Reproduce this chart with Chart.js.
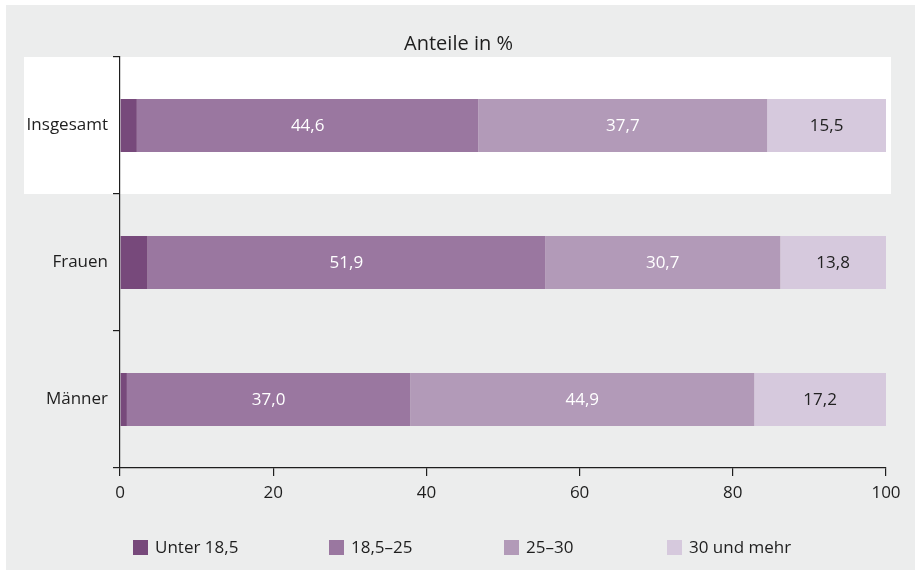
<!DOCTYPE html>
<html>
<head>
<meta charset="utf-8">
<script src="https://cdn.jsdelivr.net/npm/chart.js@4/dist/chart.umd.min.js"></script>
<style>
  html, body { margin: 0; padding: 0; background: #ffffff; }
  #wrap { position: relative; width: 915px; height: 570px; }
  canvas { display: block; }
</style>
</head>
<body>
<div id="wrap"><canvas id="c" width="915" height="570"></canvas></div>
<script>
// ---- data ----
const categories = ['Insgesamt', 'Frauen', 'Männer'];
const seriesNames = ['Unter 18,5', '18,5–25', '25–30', '30 und mehr'];
const unter185 = [2.2, 3.6, 0.9];
const normal = [44.6, 51.9, 37.0];
const ueber25 = [37.7, 30.7, 44.9];
const ueber30 = [15.5, 13.8, 17.2];
const xTicks = [0, 20, 40, 60, 80, 100];
const titleText = 'Anteile in %';

// ---- styles ----
const colors = ['#77497b', '#9a77a0', '#b29ab8', '#d6c9dd'];
const labelColors = ['#ffffff', '#ffffff', '#ffffff', '#222222'];
const FONT = "'Open Sans', 'Noto Sans', sans-serif";
const textColor = '#1e1e1e';
const panelColor = '#eceded';

const seriesValues = [unter185, normal, ueber25, ueber30];

const bgPlugin = {
  id: 'bg',
  beforeDraw(chart) {
    const ctx = chart.ctx;
    const ca = chart.chartArea;
    ctx.save();
    ctx.fillStyle = '#ffffff';
    ctx.fillRect(0, 0, chart.width, chart.height);
    ctx.fillStyle = panelColor;
    ctx.fillRect(6, 5, chart.width - 6, chart.height - 5);
    const y = chart.scales.y;
    const half = (ca.bottom - ca.top) / categories.length / 2;
    const c0 = y.getPixelForValue(0);
    ctx.fillStyle = '#ffffff';
    ctx.fillRect(24, c0 - half, ca.right + 5 - 24, 2 * half);
    // title
    ctx.fillStyle = textColor;
    ctx.font = '20px ' + FONT;
    ctx.textAlign = 'center';
    ctx.textBaseline = 'middle';
    ctx.fillText(titleText, chart.width / 2 + 1, 44);
    ctx.restore();
  }
};

const labelPlugin = {
  id: 'segLabels',
  afterDatasetsDraw(chart) {
    const ctx = chart.ctx;
    ctx.save();
    ctx.font = '17px ' + FONT;
    ctx.textAlign = 'center';
    ctx.textBaseline = 'middle';
    chart.data.datasets.forEach((ds, di) => {
      if (di === 0) return;
      const meta = chart.getDatasetMeta(di);
      meta.data.forEach((el, i) => {
        const p = el.getProps(['x', 'y', 'base'], true);
        const cx = (p.x + p.base) / 2;
        ctx.fillStyle = labelColors[di];
        ctx.fillText(ds.data[i].toFixed(1).replace('.', ','), cx, p.y + 1);
      });
    });
    ctx.restore();
  }
};

const legendPlugin = {
  id: 'customLegend',
  afterDraw(chart) {
    const ctx = chart.ctx;
    const xs = [133, 329, 504, 667];
    const yTop = 540;
    ctx.save();
    ctx.font = '17px ' + FONT;
    ctx.textBaseline = 'middle';
    ctx.textAlign = 'left';
    seriesNames.forEach((name, i) => {
      ctx.fillStyle = colors[i];
      ctx.fillRect(xs[i], yTop, 15, 15);
      ctx.fillStyle = textColor;
      ctx.fillText(name, xs[i] + 22, yTop + 8);
    });
    ctx.restore();
  }
};

new Chart(document.getElementById('c'), {
  type: 'bar',
  data: {
    labels: categories,
    datasets: seriesNames.map((name, i) => ({
      label: name,
      data: seriesValues[i],
      backgroundColor: colors[i],
      borderWidth: 0,
      categoryPercentage: 1,
      barPercentage: 0.387
    }))
  },
  options: {
    indexAxis: 'y',
    responsive: false,
    animation: false,
    devicePixelRatio: 1,
    layout: { padding: { left: 0, right: 29, top: 57, bottom: 0 } },
    plugins: {
      legend: { display: false },
      tooltip: { enabled: false },
      title: { display: false }
    },
    scales: {
      x: {
        stacked: true,
        min: 0,
        max: 100,
        afterBuildTicks(scale) { scale.ticks = xTicks.map(v => ({ value: v })); },
        afterFit(scale) { scale.height = 102; },
        border: { display: true, color: '#1e1e1e', width: 1.2 },
        grid: { drawOnChartArea: false, drawTicks: true, tickLength: 8, color: '#1e1e1e', lineWidth: 1.2 },
        ticks: {
          color: textColor,
          padding: 7,
          font: { family: FONT, size: 17 },
          maxRotation: 0,
          callback: v => String(v)
        }
      },
      y: {
        stacked: true,
        afterFit(scale) { scale.width = 120; },
        border: { display: true, color: '#1e1e1e', width: 1.2 },
        grid: { drawOnChartArea: false, drawTicks: true, tickLength: 7, color: '#1e1e1e', lineWidth: 1.2, offset: true },
        ticks: {
          color: textColor,
          padding: 5,
          font: { family: FONT, size: 17 }
        }
      }
    }
  },
  plugins: [bgPlugin, labelPlugin, legendPlugin]
});
</script>
</body>
</html>
